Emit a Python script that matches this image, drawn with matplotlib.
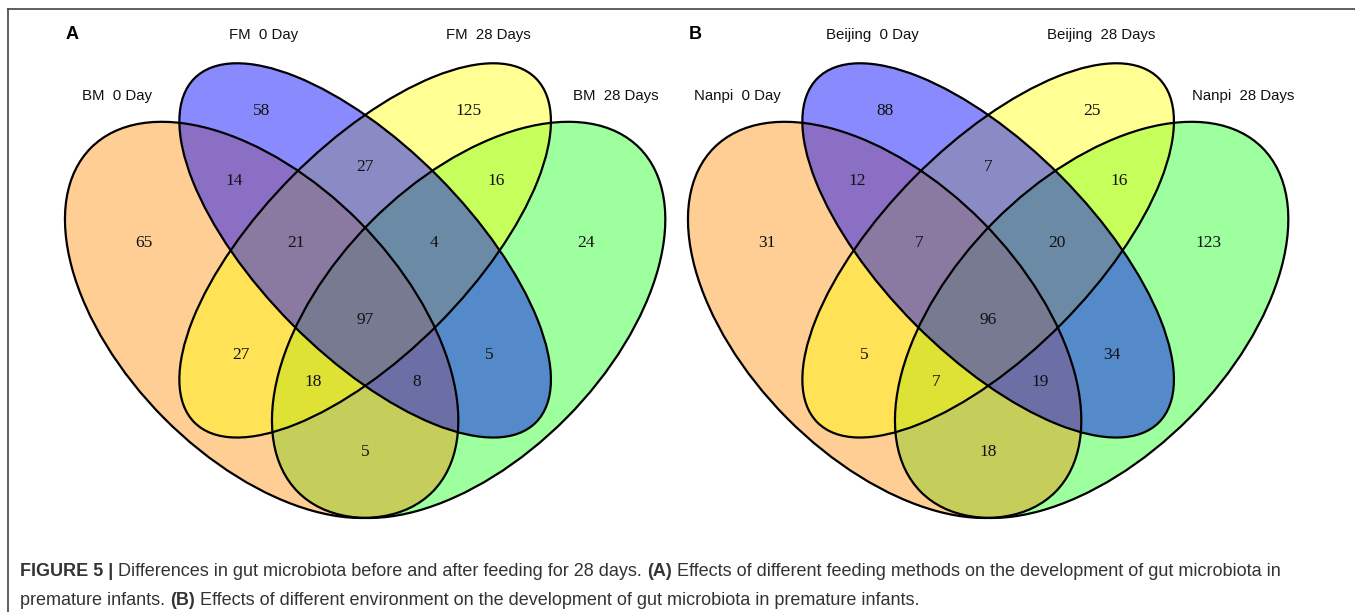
import matplotlib
matplotlib.use("Agg")
import matplotlib.pyplot as plt
from matplotlib.patches import Ellipse
from matplotlib.lines import Line2D

# ---- data ----
names_a = ["BM  0 Day", "FM  0 Day", "FM  28 Days", "BM  28 Days"]
names_b = ["Nanpi  0 Day", "Beijing  0 Day", "Beijing  28 Days", "Nanpi  28 Days"]
# region order: 1, 2, 3, 4, 12, 23, 34, 123, 234, 1234, 13, 24, 134, 124, 14
counts_a = [65, 58, 125, 24, 14, 27, 16, 21, 4, 97, 27, 5, 18, 8, 5]
counts_b = [31, 88, 25, 123, 12, 7, 16, 7, 20, 96, 5, 34, 7, 19, 18]
letters = ["A", "B"]
caption_1 = [("FIGURE 5 |", True),
             ("Differences in gut microbiota before and after feeding for 28 days.", False),
             ("(A)", True),
             ("Effects of different feeding methods on the development of gut microbiota in", False)]
caption_2 = [("premature infants.", False),
             ("(B)", True),
             ("Effects of different environment on the development of gut microbiota in premature infants.", False)]

# ---- layout (VennDiagram quad style) ----
fill_colors = ["#FF8C00", "#0000FF", "#FFFF00", "#00FF00"]
fill_alpha = [0.42, 0.46, 0.42, 0.38]
ellipses = [(0.35, 0.47, 0.35, 0.20, -45),
            (0.50, 0.57, 0.35, 0.15, -45),
            (0.50, 0.57, 0.35, 0.15, 45),
            (0.65, 0.47, 0.35, 0.20, 45)]
fill_order = [3, 0, 2, 1]
label_xy = [(0.18, 0.58), (0.35, 0.77), (0.65, 0.77), (0.82, 0.58),
            (0.31, 0.67), (0.50, 0.69), (0.69, 0.67),
            (0.40, 0.58), (0.60, 0.58), (0.50, 0.47),
            (0.32, 0.42), (0.68, 0.42),
            (0.425, 0.38), (0.575, 0.38), (0.50, 0.28)]
name_x_a = [0.140, 0.353, 0.679, 0.864]
name_x_b = [0.136, 0.332, 0.664, 0.869]
name_y = [0.792, 0.880, 0.880, 0.792]

W, H = 1355, 612
fig = plt.figure(figsize=(W / 100, H / 100), dpi=100)


def draw_venn(left_px, names, counts, name_x, letter):
    ax = fig.add_axes([left_px / W, 0, 677.5 / W, 1])
    ax.set_xlim(-0.0292, 0.9527)
    ax.set_ylim(0.0497, 0.9303)
    ax.axis("off")
    for i in fill_order:
        x, y, a, b, ang = ellipses[i]
        ax.add_patch(Ellipse((x, y), 2 * a, 2 * b, angle=ang, facecolor=fill_colors[i],
                             alpha=fill_alpha[i], edgecolor="none"))
    for x, y, a, b, ang in ellipses:
        ax.add_patch(Ellipse((x, y), 2 * a, 2 * b, angle=ang, facecolor="none",
                             edgecolor="black", lw=1.6))
    for (x, y), c in zip(label_xy, counts):
        ax.text(x, y, str(c), ha="center", va="center", fontsize=12.5,
                family="Liberation Serif", color="#111111")
    for x, y, s in zip(name_x, name_y, names):
        ax.text(x, y, s, ha="center", va="center", fontsize=10.8,
                family="Liberation Sans", color="#111111")
    ax.text(0.075, 0.880, letter, ha="center", va="center", fontsize=13,
            weight="bold", family="Liberation Sans")
    return ax


draw_venn(0, names_a, counts_a, name_x_a, letters[0])
draw_venn(623, names_b, counts_b, name_x_b, letters[1])

# frame lines (top and left)
fig.add_artist(Line2D([8 / W, 1], [1 - 9 / H, 1 - 9 / H], transform=fig.transFigure,
                      color="#444444", lw=1.2))
fig.add_artist(Line2D([8 / W, 8 / W], [0, 1 - 9 / H], transform=fig.transFigure,
                      color="#444444", lw=1.2))

# caption with mixed weights
fig.canvas.draw()
renderer = fig.canvas.get_renderer()
cap_size = 13
space_px = 0.278 * cap_size * 100 / 72


def put_line(pieces, x_px, y_px):
    x = x_px
    for s, bold in pieces:
        t = fig.text(x / W, 1 - y_px / H, s, fontsize=cap_size, family="Liberation Sans",
                     weight="bold" if bold else "normal", color="#333333",
                     ha="left", va="baseline")
        x = t.get_window_extent(renderer).x1 + space_px


put_line(caption_1, 20, 576)
put_line(caption_2, 20, 605)

fig.savefig("out.png", dpi=100)
